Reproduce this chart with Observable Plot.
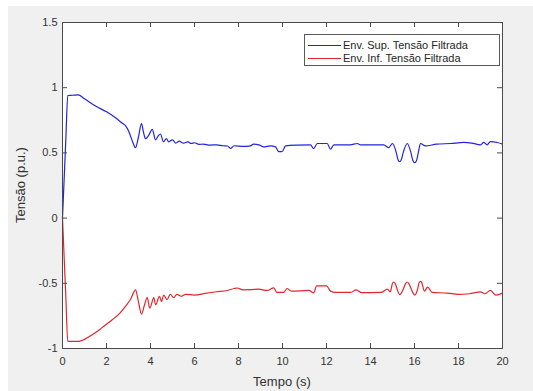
<!DOCTYPE html>
<html>
<head>
<meta charset="utf-8">
<script src="https://cdn.jsdelivr.net/npm/d3@7"></script>
<script src="https://cdn.jsdelivr.net/npm/@observablehq/plot@0.6"></script>
<style>
  html, body { margin: 0; padding: 0; background: #ffffff; }
  #wrap { position: relative; width: 533px; height: 391px; overflow: hidden; background: #ffffff; font-family: "Liberation Sans", Arial, sans-serif; }
  #fig { position: absolute; left: 8px; top: 6px; width: 525px; height: 385px; background: #f0f0f0; }
  #fig svg { display: block; }
  .lbl { position: absolute; color: #303030; font-size: 13px; white-space: nowrap; }
  #legend { position: absolute; left: 296px; top: 28px; width: 194px; height: 30px; border: 1px solid #5a5a5a; background: #ffffff; }
  .row { position: absolute; left: 0; height: 12px; font-size: 11px; color: #262626; line-height: 12px; }
  .swatch { position: absolute; left: 3px; top: 6px; width: 33px; height: 0; border-top: 1.2px solid; }
  .rowtext { position: absolute; left: 38px; top: 0; white-space: nowrap; }
</style>
</head>
<body>
<div id="wrap">
  <div id="fig"></div>
</div>
<script>
// ---------- data ----------
const seriesNames = ["Env. Sup. Tensão Filtrada", "Env. Inf. Tensão Filtrada"];
const seriesColors = ["#2424dc", "#e5252d"];

const supT = [0, 0.15, 0.24, 0.45, 0.71, 1.0, 1.5, 2.0, 2.41, 2.7, 2.86, 3.0, 3.09, 3.2, 3.32, 3.45, 3.59, 3.68, 3.77, 3.9, 4.08, 4.23, 4.35, 4.45, 4.59, 4.72, 4.83, 5.0, 5.15, 5.3, 5.5, 5.7, 5.85, 6.0, 6.2, 6.4, 6.7, 7.0, 7.3, 7.5, 7.64, 7.8, 8.2, 8.55, 8.68, 8.92, 9.15, 9.45, 9.68, 9.83, 9.98, 10.14, 10.7, 11.27, 11.42, 11.58, 12.03, 12.18, 12.33, 13.09, 13.4, 13.55, 14.6, 14.83, 15.0, 15.16, 15.25, 15.32, 15.4, 15.5, 15.67, 15.84, 15.93, 16.01, 16.09, 16.17, 16.27, 16.5, 17.0, 17.64, 18.24, 18.6, 19.0, 19.15, 19.3, 19.45, 19.76, 20];
const supV = [0, 0.6, 0.94, 0.942, 0.945, 0.915, 0.86, 0.815, 0.77, 0.73, 0.71, 0.67, 0.63, 0.58, 0.54, 0.62, 0.725, 0.66, 0.61, 0.63, 0.68, 0.60, 0.63, 0.645, 0.585, 0.61, 0.585, 0.60, 0.575, 0.59, 0.575, 0.585, 0.572, 0.578, 0.565, 0.568, 0.56, 0.562, 0.555, 0.553, 0.535, 0.555, 0.55, 0.554, 0.567, 0.562, 0.546, 0.554, 0.546, 0.51, 0.51, 0.554, 0.56, 0.562, 0.533, 0.572, 0.572, 0.528, 0.562, 0.562, 0.572, 0.562, 0.562, 0.541, 0.572, 0.51, 0.448, 0.433, 0.448, 0.51, 0.572, 0.5, 0.44, 0.425, 0.44, 0.5, 0.572, 0.554, 0.567, 0.572, 0.58, 0.575, 0.562, 0.58, 0.562, 0.587, 0.58, 0.567];

const infT = [0, 0.15, 0.24, 0.5, 0.74, 1.0, 1.35, 1.8, 2.26, 2.6, 2.86, 3.1, 3.32, 3.45, 3.59, 3.72, 3.85, 3.97, 4.15, 4.23, 4.41, 4.5, 4.6, 4.75, 4.9, 5.05, 5.2, 5.4, 5.6, 6.0, 6.5, 7.0, 7.5, 7.8, 7.94, 8.2, 8.55, 8.9, 9.3, 9.6, 9.75, 10.05, 10.21, 10.4, 11.2, 11.42, 11.55, 12.0, 12.18, 12.4, 13.1, 13.35, 13.6, 14.5, 14.76, 14.9, 15.0, 15.06, 15.12, 15.2, 15.33, 15.5, 15.6, 15.67, 15.74, 15.84, 16.01, 16.15, 16.21, 16.27, 16.33, 16.45, 16.6, 16.8, 17.5, 18.0, 18.5, 19.0, 19.2, 19.45, 19.7, 20];
const infV = [0, -0.6, -0.946, -0.946, -0.945, -0.93, -0.895, -0.84, -0.78, -0.73, -0.677, -0.62, -0.55, -0.64, -0.736, -0.67, -0.61, -0.69, -0.61, -0.665, -0.60, -0.64, -0.59, -0.625, -0.585, -0.61, -0.585, -0.6, -0.585, -0.59, -0.577, -0.565, -0.555, -0.54, -0.536, -0.55, -0.549, -0.545, -0.555, -0.535, -0.57, -0.57, -0.54, -0.56, -0.555, -0.574, -0.52, -0.52, -0.56, -0.57, -0.57, -0.55, -0.572, -0.57, -0.545, -0.565, -0.5, -0.49, -0.5, -0.54, -0.587, -0.54, -0.5, -0.49, -0.5, -0.54, -0.59, -0.54, -0.495, -0.485, -0.495, -0.56, -0.53, -0.57, -0.575, -0.585, -0.58, -0.565, -0.58, -0.555, -0.59, -0.575];

const xTicks = [0, 2, 4, 6, 8, 10, 12, 14, 16, 18, 20];
const xTickLabels = ["0", "2", "4", "6", "8", "10", "12", "14", "16", "18", "20"];
const yTicks = [-1, -0.5, 0, 0.5, 1, 1.5];
const yTickLabels = ["-1", "-0.5", "0", "0.5", "1", "1.5"];
const xLabel = "Tempo (s)";
const yLabel = "Tensão (p.u.)";

// ---------- build table ----------
const rows = [];
supT.forEach((t, i) => rows.push({t, v: supV[i], s: seriesNames[0]}));
infT.forEach((t, i) => rows.push({t, v: infV[i], s: seriesNames[1]}));

const W = 525, H = 385, mL = 54, mR = 31, mT = 16, mB = 43;
const innerH = H - mT - mB;
const tickLen = 5;
const axisColor = "#4a4a4a";

const chart = Plot.plot({
  width: W, height: H,
  marginLeft: mL, marginRight: mR, marginTop: mT, marginBottom: mB,
  style: {background: "transparent", color: "#333333", fontFamily: "'Liberation Sans', Arial, sans-serif", fontSize: "11px"},
  x: {domain: [0, 20], label: null},
  y: {domain: [-1, 1.5], label: null},
  color: {domain: seriesNames, range: seriesColors},
  marks: [
    Plot.frame({fill: "white", stroke: "none"}),
    Plot.line(rows, {x: "t", y: "v", z: "s", stroke: "s", strokeWidth: 1.2, curve: "monotone-x"}),
    // inward ticks on all four sides
    Plot.ruleX(xTicks, {x: d => d, insetTop: innerH - tickLen, stroke: axisColor, strokeWidth: 1}),
    Plot.ruleX(xTicks, {x: d => d, insetBottom: innerH - tickLen, stroke: axisColor, strokeWidth: 1}),
    Plot.ruleY(yTicks, {y: d => d, insetRight: (W - mL - mR) - tickLen, stroke: axisColor, strokeWidth: 1}),
    Plot.ruleY(yTicks, {y: d => d, insetLeft: (W - mL - mR) - tickLen, stroke: axisColor, strokeWidth: 1}),
    Plot.frame({stroke: axisColor, strokeWidth: 1}),
    Plot.axisX({ticks: xTicks, tickSize: 0, tickPadding: 9, label: null,
      tickFormat: d => xTickLabels[xTicks.indexOf(d)], fontSize: 11}),
    Plot.axisY({ticks: yTicks, tickSize: 0, tickPadding: 5, label: null,
      tickFormat: d => yTickLabels[yTicks.indexOf(d)], fontSize: 11})
  ]
});
const fig = document.getElementById("fig");
fig.appendChild(chart);

// axis titles
const xl = document.createElement("div");
xl.className = "lbl"; xl.textContent = xLabel;
xl.style.left = (mL + (W - mL - mR) / 2) + "px";
xl.style.top = "368px";
xl.style.transform = "translateX(-50%)";
fig.appendChild(xl);

const yl = document.createElement("div");
yl.className = "lbl"; yl.textContent = yLabel;
yl.style.left = "12px";
yl.style.top = (mT + innerH / 2) + "px";
yl.style.transform = "translate(-50%, -50%) rotate(-90deg)";
fig.appendChild(yl);

// legend
const leg = document.createElement("div");
leg.id = "legend";
seriesNames.forEach((name, i) => {
  const r = document.createElement("div");
  r.className = "row";
  r.style.top = (4 + i * 13) + "px";
  r.style.width = "100%";
  const sw = document.createElement("div");
  sw.className = "swatch";
  sw.style.borderTopColor = seriesColors[i];
  const tx = document.createElement("div");
  tx.className = "rowtext";
  tx.textContent = name;
  r.appendChild(sw); r.appendChild(tx);
  leg.appendChild(r);
});
fig.appendChild(leg);
</script>
</body>
</html>
